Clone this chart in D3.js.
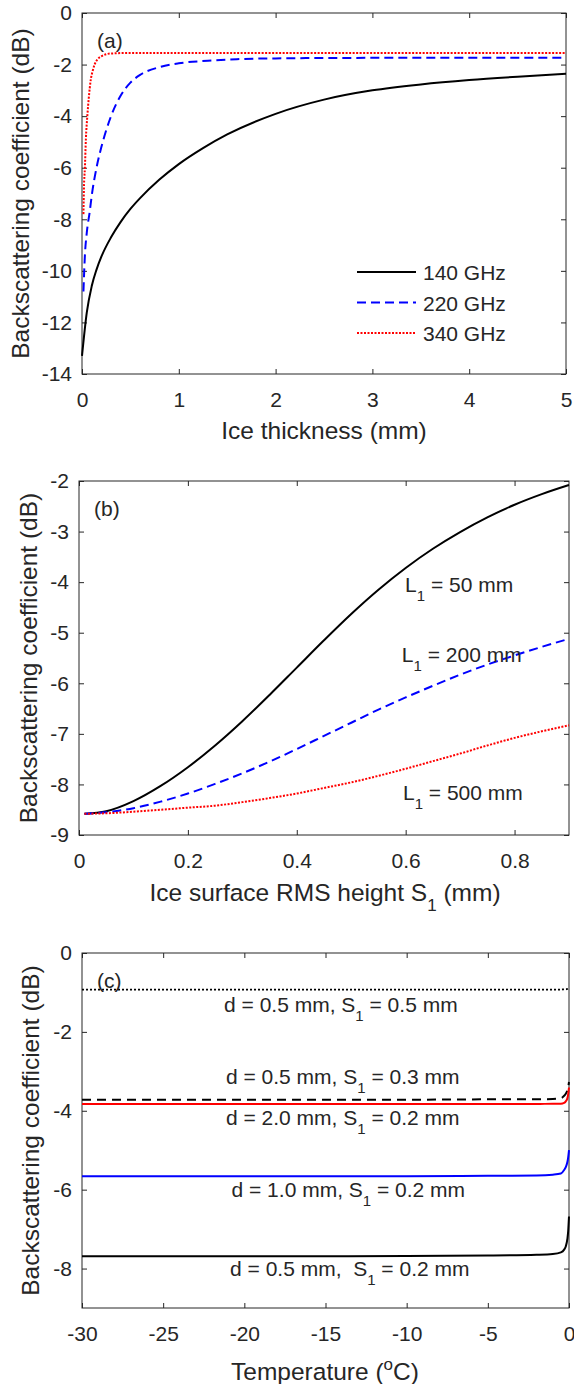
<!DOCTYPE html>
<html>
<head>
<meta charset="utf-8">
<script src="https://cdn.jsdelivr.net/npm/d3@7"></script>
<style>
	body { margin: 0; background: #fff; }
	text { font-family: "Liberation Sans", Arial, sans-serif; fill: #262626; white-space: pre; }
</style>
</head>
<body>
<svg id="chart" width="574" height="1384"></svg>
<script>
// (a) backscattering vs ice thickness
const thick140 = [0, 0.05, 0.1, 0.15, 0.2, 0.3, 0.4, 0.5, 0.6, 0.8, 1.0, 1.25, 1.5, 2, 2.5, 3, 3.5, 4, 4.5, 5];
const sigma140 = [-13.3, -11.6, -10.6, -9.95, -9.45, -8.7, -8.1, -7.6, -7.18, -6.46, -5.86, -5.24, -4.71, -3.91, -3.36, -3.0, -2.77, -2.6, -2.47, -2.36];
const thick220 = [0.015, 0.03, 0.05, 0.08, 0.1, 0.15, 0.2, 0.25, 0.3, 0.4, 0.5, 0.6, 0.8, 1.0, 1.3, 1.6, 2, 3, 4, 5];
const sigma220 = [-10.8, -9.4, -8.5, -7.7, -7.1, -6.0, -5.2, -4.55, -4.0, -3.2, -2.7, -2.4, -2.1, -1.95, -1.85, -1.79, -1.76, -1.74, -1.74, -1.74];
const thick340 = [0.015, 0.02, 0.03, 0.04, 0.055, 0.07, 0.09, 0.11, 0.13, 0.16, 0.2, 0.25, 0.3, 0.5, 1, 2, 3, 4, 5];
const sigma340 = [-7.8, -6.8, -6.0, -4.9, -4.0, -3.3, -2.6, -2.25, -2.0, -1.8, -1.68, -1.6, -1.57, -1.55, -1.55, -1.55, -1.55, -1.55, -1.55];
const freqLabels = ['140 GHz', '220 GHz', '340 GHz'];

// (b) backscattering vs RMS height
const rmsHeight = [0.01, 0.05, 0.1, 0.15, 0.2, 0.25, 0.3, 0.35, 0.4, 0.45, 0.5, 0.55, 0.6, 0.65, 0.7, 0.75, 0.8, 0.85, 0.9];
const sigmaL50 = [-8.58, -8.53, -8.33, -8.03, -7.66, -7.23, -6.75, -6.23, -5.69, -5.15, -4.63, -4.15, -3.72, -3.34, -3.01, -2.72, -2.47, -2.26, -2.08];
const sigmaL200 = [-8.58, -8.55, -8.47, -8.34, -8.18, -7.99, -7.78, -7.55, -7.3, -7.04, -6.78, -6.52, -6.28, -6.05, -5.83, -5.63, -5.45, -5.28, -5.12];
const sigmaL500 = [-8.58, -8.57, -8.54, -8.5, -8.46, -8.42, -8.35, -8.27, -8.18, -8.07, -7.96, -7.83, -7.69, -7.54, -7.39, -7.23, -7.08, -6.95, -6.83];
const corrLabels = ['50 mm', '200 mm', '500 mm'];

// (c) backscattering vs temperature
const temperature = [-30, -20, -10, -5, -2, -1, -0.5, -0.3, -0.2, -0.1, -0.05, 0];
const sigmaD05S05 = [-0.93, -0.93, -0.93, -0.93, -0.93, -0.93, -0.93, -0.92, -0.92, -0.91, -0.9, -0.88];
const sigmaD05S03 = [-3.72, -3.72, -3.72, -3.71, -3.71, -3.7, -3.68, -3.62, -3.57, -3.48, -3.4, -3.27];
const sigmaD20S02 = [-3.83, -3.83, -3.83, -3.83, -3.83, -3.82, -3.82, -3.8, -3.76, -3.68, -3.58, -3.41];
const sigmaD10S02 = [-5.66, -5.66, -5.66, -5.65, -5.64, -5.62, -5.59, -5.5, -5.43, -5.3, -5.18, -5.0];
const sigmaD05S02 = [-7.69, -7.69, -7.68, -7.67, -7.65, -7.63, -7.59, -7.52, -7.44, -7.25, -7.05, -6.68];
const caseLabels = [['d = 0.5 mm, S', ' = 0.5 mm'], ['d = 0.5 mm, S', ' = 0.3 mm'], ['d = 2.0 mm, S', ' = 0.2 mm'], ['d = 1.0 mm, S', ' = 0.2 mm'], ['d = 0.5 mm,  S', ' = 0.2 mm']];

const svg = d3.select('#chart');
const FONT = '"Liberation Sans", Arial, sans-serif';
const TICK_FS = 21, LABEL_FS = 24.5, NOTE_FS = 21;

function drawPanel(p) {
	const x = d3.scaleLinear().domain(p.xDomain).range([p.left, p.right]);
	const y = d3.scaleLinear().domain(p.yDomain).range([p.bottom, p.top]);
	const g = svg.append('g');

	const styleAxis = sel => {
		sel.select('.domain').remove();
		sel.selectAll('line').attr('stroke', '#262626');
		sel.attr('font-family', FONT).attr('font-size', TICK_FS);
		sel.selectAll('text').attr('fill', '#262626');
	};
	g.append('g').attr('transform', `translate(0,${p.bottom})`)
		.call(d3.axisBottom(x).tickValues(p.xTicks).tickSizeInner(-5).tickSizeOuter(0).tickPadding(18).tickFormat(d3.format('')))
		.call(styleAxis);
	g.append('g').attr('transform', `translate(0,${p.top})`)
		.call(d3.axisTop(x).tickValues(p.xTicks).tickSizeInner(-5).tickSizeOuter(0).tickFormat(''))
		.call(styleAxis);
	g.append('g').attr('transform', `translate(${p.left},0)`)
		.call(d3.axisLeft(y).tickValues(p.yTicks).tickSizeInner(-5).tickSizeOuter(0).tickPadding(10).tickFormat(d3.format('')))
		.call(styleAxis);
	g.append('g').attr('transform', `translate(${p.right},0)`)
		.call(d3.axisRight(y).tickValues(p.yTicks).tickSizeInner(-5).tickSizeOuter(0).tickFormat(''))
		.call(styleAxis);
	// MATLAB-style hyphen minus
	g.selectAll('text').filter(function () { return this.textContent.startsWith('−'); })
		.text(function () { return '-' + this.textContent.slice(1); });

	// box
	g.append('rect')
		.attr('x', p.left).attr('y', p.top)
		.attr('width', p.right - p.left).attr('height', p.bottom - p.top)
		.attr('fill', 'none').attr('stroke', '#262626').attr('stroke-width', 1);

	const line = d3.line().x(d => x(d[0])).y(d => y(d[1])).curve(d3.curveMonotoneX);
	p.series.forEach(s => {
		g.append('path')
			.datum(d3.zip(s.x, s.y))
			.attr('d', line)
			.attr('fill', 'none')
			.attr('stroke', s.color)
			.attr('stroke-width', s.width || 2)
			.attr('stroke-dasharray', s.dash || null);
	});

	// y label
	g.append('text')
		.attr('transform', `translate(${p.yLabelX},${(p.top + p.bottom) / 2}) rotate(-90)`)
		.attr('text-anchor', 'middle')
		.attr('font-size', LABEL_FS)
		.text('Backscattering coefficient (dB)');
	// panel tag
	g.append('text').attr('x', p.left + 15).attr('y', p.top + 35).attr('font-size', NOTE_FS).text(p.tag);
	return { g, x, y };
}

// ---------- (a)
const a = drawPanel({
	left: 82, right: 566, top: 13, bottom: 374,
	xDomain: [0, 5], yDomain: [-14, 0],
	xTicks: [0, 1, 2, 3, 4, 5], yTicks: [0, -2, -4, -6, -8, -10, -12, -14],
	yLabelX: 29, tag: '(a)',
	series: [
		{ x: thick140, y: sigma140, color: '#000000' },
		{ x: thick220, y: sigma220, color: '#0000ff', dash: '9,5' },
		{ x: thick340, y: sigma340, color: '#ff0000', dash: '2,1.5' }
	]
});
a.g.append('text').attr('x', 324).attr('y', 439).attr('text-anchor', 'middle').attr('font-size', LABEL_FS).text('Ice thickness (mm)');
const legendStyles = [{ color: '#000000', dash: null }, { color: '#0000ff', dash: '9,5' }, { color: '#ff0000', dash: '2,1.5' }];
freqLabels.forEach((lab, i) => {
	const ly = 272 + i * 30.5;
	a.g.append('line').attr('x1', 357).attr('x2', 416).attr('y1', ly).attr('y2', ly)
		.attr('stroke', legendStyles[i].color).attr('stroke-width', 2).attr('stroke-dasharray', legendStyles[i].dash);
	a.g.append('text').attr('x', 423).attr('y', ly + 8).attr('font-size', NOTE_FS).text(lab);
});

// ---------- (b)
const b = drawPanel({
	left: 79, right: 569, top: 481, bottom: 835,
	xDomain: [0, 0.9], yDomain: [-9, -2],
	xTicks: [0, 0.2, 0.4, 0.6, 0.8], yTicks: [-2, -3, -4, -5, -6, -7, -8, -9],
	yLabelX: 37, tag: '(b)',
	series: [
		{ x: rmsHeight, y: sigmaL50, color: '#000000' },
		{ x: rmsHeight, y: sigmaL200, color: '#0000ff', dash: '9,5' },
		{ x: rmsHeight, y: sigmaL500, color: '#ff0000', dash: '2,1.5' }
	]
});
const xl = b.g.append('text').attr('x', 325).attr('y', 901).attr('text-anchor', 'middle').attr('font-size', LABEL_FS);
xl.append('tspan').text('Ice surface RMS height S');
xl.append('tspan').attr('font-size', 17).attr('dy', 10).text('1');
xl.append('tspan').attr('dy', -10).text(' (mm)');
const corrPos = [[0.599, -4.19], [0.593, -5.57], [0.595, -8.31]];
corrLabels.forEach((lab, i) => {
	const t = b.g.append('text').attr('x', b.x(corrPos[i][0])).attr('y', b.y(corrPos[i][1])).attr('font-size', NOTE_FS);
	t.append('tspan').text('L');
	t.append('tspan').attr('font-size', 15).attr('dy', 9).text('1');
	t.append('tspan').attr('dy', -9).text(' = ' + lab);
});

// ---------- (c)
const c = drawPanel({
	left: 82, right: 569, top: 953, bottom: 1308,
	xDomain: [-30, 0], yDomain: [-9, 0],
	xTicks: [-30, -25, -20, -15, -10, -5, 0], yTicks: [0, -2, -4, -6, -8],
	yLabelX: 39, tag: '(c)',
	series: [
		{ x: temperature, y: sigmaD05S05, color: '#000000', dash: '2,2', width: 1.8 },
		{ x: temperature, y: sigmaD05S03, color: '#000000', dash: '9,6' },
		{ x: temperature, y: sigmaD20S02, color: '#ff0000' },
		{ x: temperature, y: sigmaD10S02, color: '#0000ff' },
		{ x: temperature, y: sigmaD05S02, color: '#000000' }
	]
});
const tl = c.g.append('text').attr('x', 325).attr('y', 1380).attr('text-anchor', 'middle').attr('font-size', LABEL_FS);
tl.append('tspan').text('Temperature (');
tl.append('tspan').attr('font-size', 17).attr('dy', -10).text('o');
tl.append('tspan').attr('dy', 10).text('C)');
const casePos = [[-21.25, -1.5], [-21.13, -3.33], [-21.13, -4.37], [-20.79, -6.18], [-20.88, -8.19]];
caseLabels.forEach((lab, i) => {
	const t = c.g.append('text').attr('x', c.x(casePos[i][0])).attr('y', c.y(casePos[i][1])).attr('font-size', NOTE_FS);
	t.append('tspan').text(lab[0]);
	t.append('tspan').attr('font-size', 15).attr('dy', 9).text('1');
	t.append('tspan').attr('dy', -9).text(lab[1]);
});
</script>
</body>
</html>
